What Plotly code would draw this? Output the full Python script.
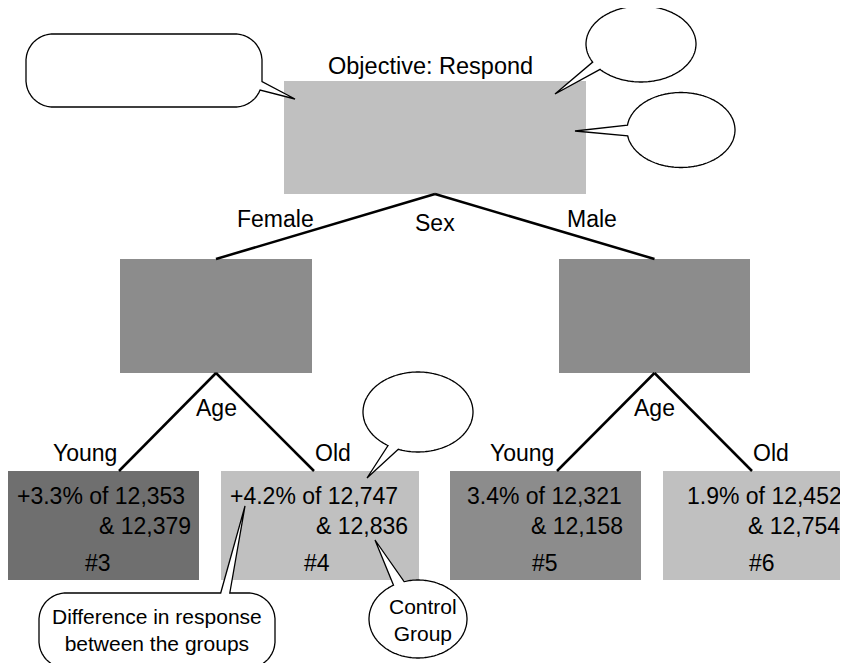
import numpy as np
import plotly.graph_objects as go

W, H = 848, 663
PAD = 8  # the page body keeps a default 8px margin

# tree content
root_title = "Objective: Respond"
split_1 = "Sex"
split_1_branches = ["Female", "Male"]
split_2 = "Age"
split_2_branches = ["Young", "Old"]
leaf_ids = [3, 4, 5, 6]
leaf_lift = ["+3.3%", "+4.2%", "3.4%", "1.9%"]
leaf_treated = [12353, 12747, 12321, 12452]
leaf_control = [12379, 12836, 12158, 12754]
note_difference = "Difference in response<br>between the groups"
note_control = "Control<br>Group"

FONT = "Liberation Sans, Arial, Helvetica, sans-serif"

# layout of the diagram (pixel coordinates, y down)
root_box = (284, 81, 586, 194)
mid_boxes = [(120, 259, 312, 373), (559, 259, 750, 373)]
leaf_boxes = [(7, 471, 199, 580), (221, 471, 419, 580), (450, 471, 641, 580), (663, 471, 846, 580)]
root_color = "#c0c0c0"
mid_colors = ["#8c8c8c", "#8c8c8c"]
leaf_colors = ["#6f6f6f", "#c0c0c0", "#8c8c8c", "#c0c0c0"]


def center_bottom(b):
    return ((b[0] + b[2]) / 2, b[3])


def center_top(b):
    return ((b[0] + b[2]) / 2, b[1])


fig = go.Figure()
shapes = []
annotations = []

# boxes
for b, c in [(root_box, root_color)] + list(zip(mid_boxes, mid_colors)) + list(zip(leaf_boxes, leaf_colors)):
    shapes.append(dict(type="rect", x0=b[0], y0=b[1], x1=b[2], y1=b[3],
                       fillcolor=c, line=dict(width=0), layer="below"))

# edges
ex, ey = [], []
rx, ry = center_bottom(root_box)
for mb in mid_boxes:
    tx, ty = center_top(mb)
    ex += [rx, tx, None]
    ey += [ry, ty, None]
leaf_ends = [(119, 471), (314, 471), (557, 471), (752, 471)]
for i, mb in enumerate(mid_boxes):
    px, py = center_bottom(mb)
    for j in range(2):
        tx, ty = leaf_ends[2 * i + j]
        ex += [px, tx, None]
        ey += [py, ty, None]
fig.add_trace(go.Scatter(x=ex, y=ey, mode="lines", line=dict(color="black", width=2.5),
                         hoverinfo="skip", showlegend=False))


def label(text, x, y, size=23, xanchor="center"):
    annotations.append(dict(text=text, x=x, y=y, xref="x", yref="y", showarrow=False,
                            xanchor=xanchor, yanchor="middle",
                            font=dict(family=FONT, size=size, color="black")))


label(root_title, 430, 66, size=23.5)
label(split_1, 435, 223)
label(split_1_branches[0], 275, 219)
label(split_1_branches[1], 592, 219)
for ax in [216, 654]:
    label(split_2, ax, 408)
for yx, ox in [(85, 333), (522, 771)]:
    label(split_2_branches[0], yx, 453)
    label(split_2_branches[1], ox, 453)

# leaf text
line1_x = [15, 228, 465, 685]
line2_x = [193, 410, 625, 842]
id_x = [98, 317, 545, 762]
for k in range(4):
    label(f"{leaf_lift[k]} of {leaf_treated[k]:,}", line1_x[k], 496, xanchor="left")
    label(f"& {leaf_control[k]:,}", line2_x[k], 526, xanchor="right")
    label(f"#{leaf_ids[k]}", id_x[k], 563)


# speech bubbles
def ellipse_pts(cx, cy, a, b, n=240):
    t = np.linspace(0, 2 * np.pi, n, endpoint=False)
    return np.column_stack([cx + a * np.cos(t), cy + b * np.sin(t)])


def rrect_pts(x0, y0, x1, y1, r, n=30):
    pts = []
    corners = [(x1 - r, y0 + r, -np.pi / 2, 0), (x1 - r, y1 - r, 0, np.pi / 2),
               (x0 + r, y1 - r, np.pi / 2, np.pi), (x0 + r, y0 + r, np.pi, 1.5 * np.pi)]
    for cx, cy, a0, a1 in corners:
        t = np.linspace(a0, a1, n)
        pts += list(zip(cx + r * np.cos(t), cy + r * np.sin(t)))
    pts = np.array(pts)
    # densify the straight edges so a tail can sit anywhere
    dense = []
    m = len(pts)
    for i in range(m):
        p, q = pts[i], pts[(i + 1) % m]
        seg = max(1, int(np.hypot(*(q - p)) / 3))
        for s in range(seg):
            dense.append(p + (q - p) * s / seg)
    return np.array(dense)


def bubble_path(pts, b1, b2, tip):
    n = len(pts)
    i1 = int(np.argmin(np.hypot(pts[:, 0] - b1[0], pts[:, 1] - b1[1])))
    i2 = int(np.argmin(np.hypot(pts[:, 0] - b2[0], pts[:, 1] - b2[1])))
    lo, hi = sorted([i1, i2])
    if hi - lo < n / 2:
        outline = np.vstack([pts[hi:], pts[:lo + 1]])
    else:
        outline = pts[lo:hi + 1]
    d = "M " + " L ".join(f"{x:.1f},{y:.1f}" for x, y in outline)
    d += f" L {tip[0]},{tip[1]} Z"
    return d


bubbles = [
    (rrect_pts(26, 34, 262, 107, 27), (262, 81), (258, 89), (295, 99)),
    (ellipse_pts(641, 44, 55, 38), (593, 62), (600, 69), (555, 94)),
    (ellipse_pts(681, 130, 54, 37.5), (627, 125), (627, 136), (575, 131)),
    (ellipse_pts(418, 412, 55, 40), (391, 440), (400, 444), (367, 478)),
    (rrect_pts(39, 593, 275, 668, 27), (220, 593), (231, 593), (245, 506)),
    (ellipse_pts(418, 619, 49, 39), (393, 584), (404, 582), (375, 540)),
]
for pts, b1, b2, tip in bubbles:
    shapes.append(dict(type="path", path=bubble_path(pts, b1, b2, tip), xref="x", yref="y",
                       fillcolor="white", line=dict(color="black", width=1.3), layer="above"))

label(note_difference, 157, 630, size=21)
label(note_control, 423, 620, size=21)

fig.update_layout(
    width=W - PAD, height=H - PAD,
    margin=dict(l=0, r=0, t=0, b=0),
    paper_bgcolor="white", plot_bgcolor="white",
    xaxis=dict(range=[PAD, W], visible=False, fixedrange=True),
    yaxis=dict(range=[H, PAD], visible=False, fixedrange=True),
    shapes=shapes, annotations=annotations,
    showlegend=False,
)

fig.write_html("out.html")
